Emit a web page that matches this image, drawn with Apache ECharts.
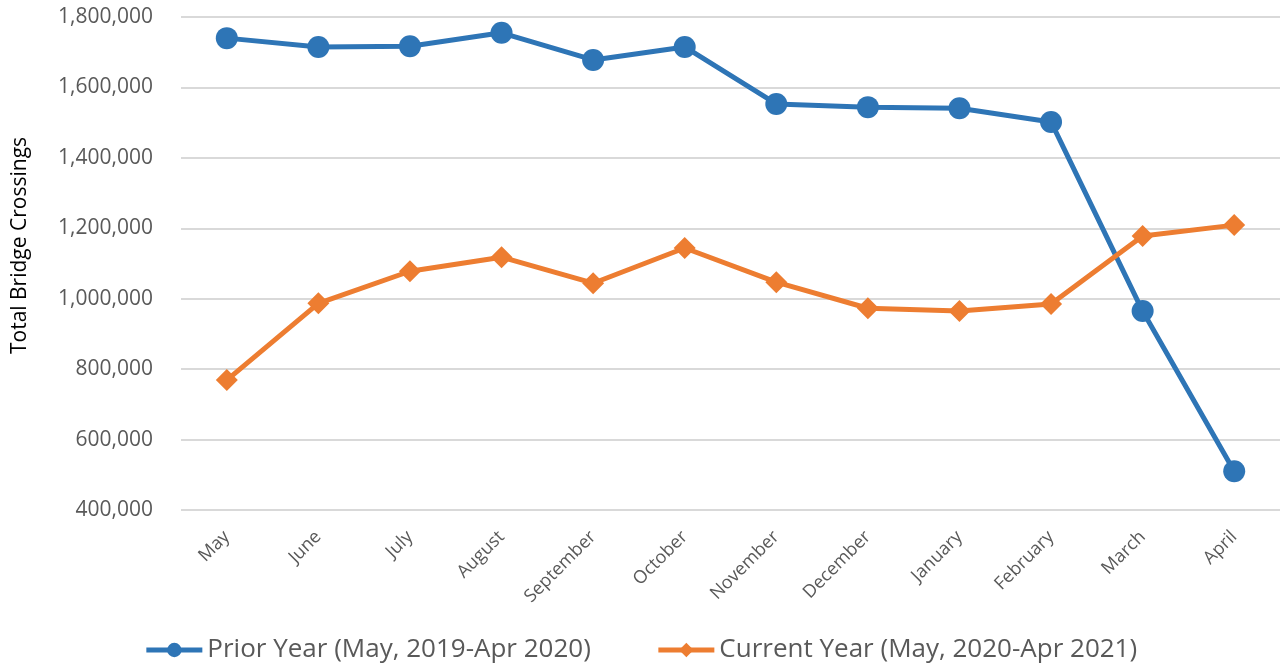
<!DOCTYPE html>
<html>
<head>
<meta charset="utf-8">
<script src="https://cdn.jsdelivr.net/npm/echarts@6/dist/echarts.min.js"></script>
<style>
  html, body { margin: 0; padding: 0; background: #fff; }
  #main { width: 1281px; height: 668px; }
</style>
</head>
<body>
<div id="main"></div>
<script>
var months = ["May", "June", "July", "August", "September", "October",
  "November", "December", "January", "February", "March", "April"];
var priorYear = [1740000, 1715000, 1717000, 1755000, 1678000, 1715000,
  1553000, 1544000, 1541000, 1502000, 965000, 510000];
var currentYear = [769000, 987000, 1078000, 1118000, 1044000, 1144000,
  1047000, 973000, 965000, 985000, 1178000, 1209000];
var yTicks = { min: 400000, max: 1800000, step: 200000 };

var font = "'Open Sans', 'Noto Sans', sans-serif";

var chart = echarts.init(document.getElementById("main"));
var option = {
  animation: false,
  grid: { left: 181, right: 1, top: 17, bottom: 158, containLabel: false, outerBoundsMode: "none" },
  legend: {
    top: 632,
    left: "center",
    itemWidth: 56,
    itemHeight: 18,
    itemGap: 65,
    lineStyle: { width: 5 },
    textStyle: { fontFamily: font, fontSize: 26, color: "#595959" },
    data: ["Prior Year (May, 2019-Apr 2020)", "Current Year (May, 2020-Apr 2021)"]
  },
  xAxis: {
    type: "category",
    data: months,
    boundaryGap: true,
    axisLine: { show: false },
    axisTick: { show: false },
    axisLabel: {
      rotate: 45,
      margin: 24,
      fontFamily: font,
      fontSize: 18,
      color: "#595959"
    }
  },
  yAxis: {
    type: "value",
    min: yTicks.min,
    max: yTicks.max,
    interval: yTicks.step,
    name: "Total Bridge Crossings",
    nameLocation: "middle",
    nameGap: 150,
    nameRotate: 90,
    nameTextStyle: { fontFamily: font, fontSize: 21, color: "#000", padding: [0, 0, 0, 36] },
    axisLine: { show: false },
    axisTick: { show: false },
    splitLine: { lineStyle: { color: "#d9d9d9", width: 2 } },
    axisLabel: {
      margin: 28,
      fontFamily: font,
      fontSize: 21,
      color: "#595959",
      formatter: function (v) { return v.toLocaleString("en-US"); }
    }
  },
  series: [
    {
      name: "Prior Year (May, 2019-Apr 2020)",
      type: "line",
      data: priorYear,
      symbol: "circle",
      symbolSize: 22,
      itemStyle: { color: "#2E75B6" },
      lineStyle: { color: "#2E75B6", width: 5 }
    },
    {
      name: "Current Year (May, 2020-Apr 2021)",
      type: "line",
      data: currentYear,
      symbol: "diamond",
      symbolSize: 22,
      itemStyle: { color: "#ED7D31" },
      lineStyle: { color: "#ED7D31", width: 5 }
    }
  ]
};
chart.setOption(option);
</script>
</body>
</html>
